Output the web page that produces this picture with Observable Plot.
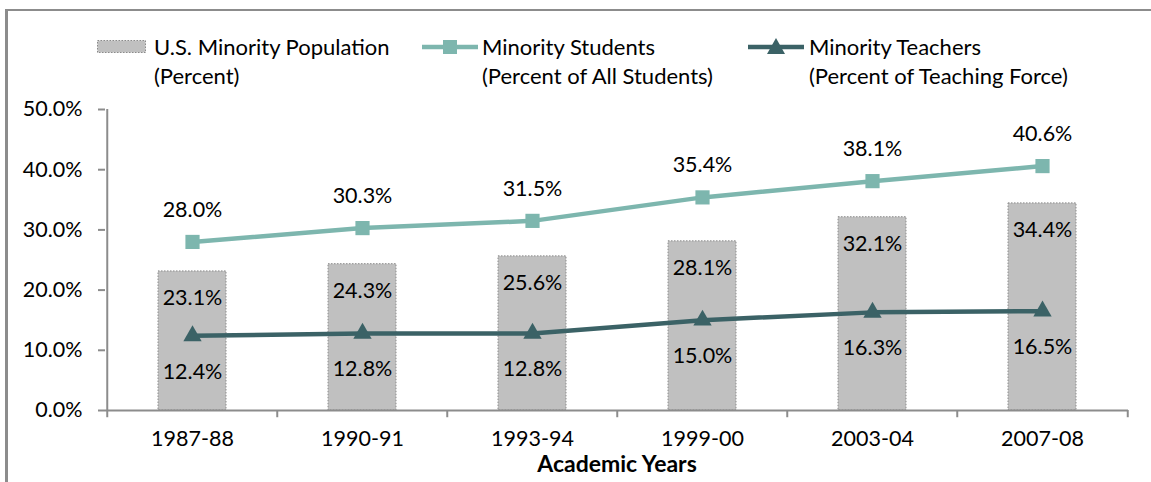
<!DOCTYPE html>
<html><head><meta charset="utf-8">
<script src="https://cdn.jsdelivr.net/npm/d3@7"></script>
<script src="https://cdn.jsdelivr.net/npm/@observablehq/plot@0.6"></script>
<style>
body{margin:0;background:#fff;font-family:Lato,"Open Sans",sans-serif;}
#wrap{position:relative;width:1151px;height:482px;overflow:hidden;background:#fff}
#frame{position:absolute;left:5px;top:9px;right:-10px;bottom:-10px;border-left:3px solid #8c8c8c;border-top:2px solid #8c8c8c}
#chart{position:absolute;left:0;top:0}
.leg{position:absolute;font-size:22px;line-height:29px;color:#000;white-space:nowrap}
.sw{position:absolute}
</style></head><body>
<div id="wrap"><div id="frame"></div><div id="chart"></div>
<svg class="sw" style="left:97px;top:40px" width="50" height="14"><rect x="0.5" y="0.5" width="48" height="12" fill="#c0c0c0" stroke="#8a8a8a" stroke-dasharray="1.5,1.5"/></svg>
<div class="leg" style="left:154px;top:32px">U.S. Minority Population<br>(Percent)</div>
<svg class="sw" style="left:420px;top:36px" width="60" height="22"><line x1="2" x2="58" y1="11" y2="11" stroke="#7db6ae" stroke-width="4.5"/><rect x="23" y="4" width="14" height="14" fill="#7db6ae"/></svg>
<div class="leg" style="left:482px;top:32px">Minority Students<br>(Percent of All Students)</div>
<svg class="sw" style="left:746px;top:36px" width="60" height="22"><line x1="2" x2="58" y1="11" y2="11" stroke="#3b6266" stroke-width="4.5"/><path d="M30,2 L39,18 L21,18 Z" fill="#3b6266"/></svg>
<div class="leg" style="left:809px;top:32px">Minority Teachers<br>(Percent of Teaching Force)</div>
</div>
<script>
const years = ["1987-88","1990-91","1993-94","1999-00","2003-04","2007-08"];
const population = [23.1, 24.3, 25.6, 28.1, 32.1, 34.4];
const students = [28.0, 30.3, 31.5, 35.4, 38.1, 40.6];
const teachers = [12.4, 12.8, 12.8, 15.0, 16.3, 16.5];
const yTicks = [0, 10, 20, 30, 40, 50];
const xTitle = "Academic Years";

const W = 1151, H = 482, ML = 105, MR = 23, MT = 109, MB = 72;
const bw = (W - ML - MR) / years.length;
const tickExt = 1.2;
const axisColor = "#8c8c8c";
const FS = 21.5;
const rows = years.map((y, i) => ({year: y, pop: population[i], stu: students[i], tea: teachers[i]}));
const fmt = d => d.toFixed(1) + "%";

const chart = Plot.plot({
  width: W, height: H,
  marginLeft: ML, marginRight: MR, marginTop: MT, marginBottom: MB,
  style: {fontFamily: "Lato, 'Open Sans', sans-serif", fontSize: FS + "px", color: "#000", background: "transparent", overflow: "visible"},
  x: {domain: years, padding: 0, label: null},
  y: {domain: [0, 50], label: null},
  marks: [
    Plot.barY(rows, {x: "year", y: "pop", fill: "#c0c0c0", stroke: "#8a8a8a", strokeWidth: 1, strokeDasharray: "1.5,1.5", insetLeft: 51, insetRight: 51}),
    Plot.ruleY([0], {stroke: axisColor, strokeWidth: 2}),
    Plot.ruleX(years, {x: d => d, dx: -bw / 2, y1: -tickExt, y2: 0, stroke: axisColor, strokeWidth: 2}),
    Plot.ruleX(years.slice(-1), {x: d => d, dx: bw / 2, y1: -tickExt, y2: 0, stroke: axisColor, strokeWidth: 2}),
    Plot.ruleX(years.slice(0, 1), {x: d => d, dx: -bw / 2, y1: 0, y2: 50, stroke: axisColor, strokeWidth: 2}),
    Plot.axisY({ticks: yTicks, tickFormat: fmt, tickSize: 7, tickPadding: 16, stroke: axisColor, strokeWidth: 2, fontSize: FS}),
    Plot.axisX({tickSize: 0, tickPadding: 20, fontSize: FS}),
    Plot.line(rows, {x: "year", y: "stu", stroke: "#7db6ae", strokeWidth: 4.5}),
    Plot.line(rows, {x: "year", y: "tea", stroke: "#3b6266", strokeWidth: 4.5}),
    Plot.dot(rows, {x: "year", y: "stu", symbol: "square", r: 8, fill: "#7db6ae"}),
    Plot.dot(rows, {x: "year", y: "tea", symbol: "triangle", r: 6.8, fill: "#3b6266"}),
    Plot.text(rows, {x: "year", y: "stu", text: d => fmt(d.stu), dy: -32, fontSize: FS}),
    Plot.text(rows, {x: "year", y: "pop", text: d => fmt(d.pop), dy: 27, fontSize: FS}),
    Plot.text(rows, {x: "year", y: "tea", text: d => fmt(d.tea), dy: 36, fontSize: FS}),
    Plot.text([xTitle], {frameAnchor: "bottom", dy: 61, fontWeight: "bold", fontSize: 23})
  ]
});
document.getElementById("chart").appendChild(chart);
</script>
</body></html>
